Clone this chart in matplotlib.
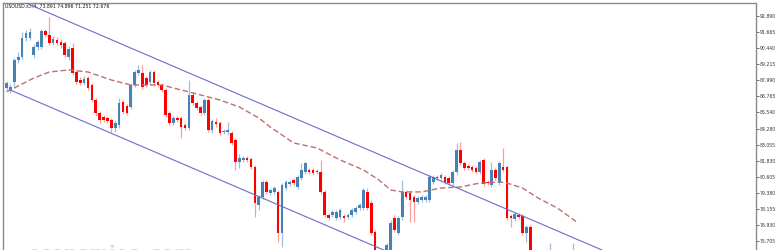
import matplotlib
matplotlib.use("Agg")
import matplotlib.pyplot as plt
import numpy as np

# ---- data (prices) ----
opens = [87.39,87.16,87.85,89.53,89.76,91.21,91.21,89.91,90.52,90.52,
         91.74,91.44,90.83,91.06,90.90,90.83,89.76,90.45,88.61,88.00,
         87.77,88.15,87.62,86.47,85.48,85.17,85.10,84.95,84.33,84.56,
         86.32,86.02,85.94,87.62,88.54,88.54,88.15,87.85,88.61,87.85,
         87.62,87.24,85.48,84.72,85.10,85.10,84.56,84.33,86.86,86.24,
         85.94,85.48,86.47,84.18,84.79,84.72,84.03,84.03,83.95,83.42,
         81.74,81.89,82.04,81.97,81.36,78.45,79.06,80.21,79.37,79.45,
         79.45,76.31,79.75,80.06,80.36,79.83,80.52,80.97,81.13,81.13,
         81.05,80.97,79.45,77.69,77.69,77.46,77.54,77.61,77.54,77.69,
         77.92,78.22,78.22,79.45,78.61,76.39,74.79,74.10,74.40,75.02,
         77.46,76.31,77.54,79.45,79.37,79.06,78.68,78.83,78.83,78.83,
         80.21,80.59,80.52,80.59,80.52,80.13,80.97,82.65,81.66,81.43,
         81.36,81.28,80.97,81.89,80.21,79.98,81.13,80.13,81.36,81.36,
         77.61,77.38,77.69,77.61,76.31,76.77,74.56,73.64,72.57,73.33,
         71.96,73.49,72.72,71.81,72.88,73.79,73.33,73.891]
highs = [87.92,87.70,89.68,90.14,91.67,91.82,91.97,90.75,91.06,91.90,
         91.90,92.81,91.36,91.29,91.13,90.98,90.60,90.83,88.77,88.23,
         88.31,88.31,87.77,86.63,85.63,85.33,85.25,85.10,84.95,86.63,
         86.47,86.17,87.77,88.77,89.15,89.15,88.31,88.77,88.77,88.00,
         87.77,87.39,85.63,85.25,85.25,85.25,84.72,88.00,87.08,86.40,
         86.09,86.63,86.63,85.02,85.10,84.87,84.26,84.79,84.10,83.57,
         82.35,82.20,82.20,82.12,81.51,79.22,80.36,80.36,79.75,79.90,
         79.60,80.13,80.36,80.36,80.52,80.74,81.66,81.74,81.28,81.28,
         81.20,81.89,79.60,77.84,78.07,78.07,78.22,77.76,77.84,78.22,
         78.38,78.61,79.75,79.75,78.83,76.54,74.94,74.86,75.55,77.31,
         77.69,77.61,80.36,79.60,79.52,79.22,79.14,79.22,79.22,80.74,
         80.74,80.74,80.90,80.74,80.67,81.13,83.19,83.27,81.81,81.58,
         81.51,81.43,81.89,82.04,80.36,81.74,81.28,81.81,82.81,81.51,
         77.76,77.92,77.84,77.76,76.92,76.92,74.71,73.87,73.64,73.64,
         75.55,73.79,73.03,73.18,74.10,74.10,75.55,74.896]
lows = [87.24,87.01,87.54,89.30,89.61,90.98,91.06,89.68,90.29,90.37,
        91.29,90.67,90.67,90.67,90.45,89.76,89.53,88.38,87.70,87.62,
        87.62,87.24,86.32,85.25,84.72,84.79,84.72,84.03,84.03,84.33,
        85.40,85.33,85.79,87.47,88.38,87.31,87.47,87.70,87.54,87.47,
        87.08,85.17,84.56,84.56,84.79,83.57,84.18,84.18,86.09,85.71,
        85.33,85.33,84.03,83.95,84.41,83.80,83.88,83.80,83.04,81.13,
        81.28,81.74,81.74,81.20,77.54,78.07,78.91,79.29,79.22,79.29,
        75.63,75.24,79.60,79.90,79.98,79.67,80.36,80.82,80.82,80.74,
        80.82,79.29,77.54,77.31,77.54,77.31,77.38,77.15,77.38,77.54,
        77.76,78.07,78.07,78.07,76.16,74.56,73.87,73.87,74.25,74.79,
        76.39,76.16,77.31,78.91,77.15,77.15,78.53,78.68,78.68,78.68,
        80.06,80.36,80.36,80.06,79.98,79.98,80.82,81.51,81.13,81.13,
        80.97,80.82,80.82,79.90,79.98,79.83,80.36,79.98,80.97,77.31,
        76.77,77.23,77.38,76.16,75.63,74.25,73.33,72.42,72.26,71.58,
        71.73,72.26,71.35,71.50,72.57,72.88,73.03,71.251]
closes = [87.77,87.47,89.53,89.76,91.21,91.59,91.67,90.52,90.90,91.74,
          91.44,90.83,91.13,90.83,90.67,89.91,90.37,88.54,87.85,87.77,
          88.08,87.39,86.47,85.48,84.95,84.95,84.87,84.33,84.72,86.24,
          85.56,85.48,87.62,88.61,88.77,87.47,87.62,88.61,87.77,87.62,
          87.24,85.33,84.72,85.10,84.95,84.41,84.33,86.86,86.24,85.86,
          85.48,86.47,84.18,84.87,84.64,83.95,84.10,84.18,83.19,81.74,
          82.04,82.04,81.89,81.36,78.61,79.06,80.21,79.45,79.60,79.75,
          76.31,79.98,80.21,80.21,80.13,80.59,81.13,81.66,80.97,80.90,
          80.97,79.45,77.69,77.46,77.92,77.92,78.07,77.46,77.69,78.07,
          78.22,78.45,79.60,78.22,76.31,74.79,74.10,74.63,75.40,77.08,
          76.54,77.46,79.45,79.06,78.83,78.68,78.99,79.06,79.06,80.59,
          80.59,80.52,80.74,80.21,80.13,80.97,82.65,81.66,81.28,81.28,
          81.13,80.97,81.74,80.06,80.13,81.13,80.52,81.66,81.13,77.46,
          77.46,77.76,77.54,76.31,76.77,74.56,73.64,72.72,73.33,71.96,
          73.49,72.57,71.81,72.88,73.79,73.18,74.10,72.676]

ma_idx = [0, 2, 7, 11, 16, 21, 27, 32, 40, 43, 50, 55, 60, 65, 68, 71, 74, 80,
          86, 92, 96, 99, 102, 107, 112, 117, 122, 127, 129, 133, 137, 142, 147]
ma_val = [87.10, 87.39, 88.15, 88.61, 88.77, 88.61, 88.00, 87.62, 87.62, 87.39,
          86.86, 86.47, 85.94, 85.10, 84.40, 83.80, 83.19, 82.81, 81.89, 81.13,
          80.36, 79.60, 79.45, 79.45, 79.75, 79.83, 80.13, 80.21, 80.13, 79.75,
          78.99, 78.22, 77.15]

chan_idx = [1, 200]
chan_upper = [94.38, 94.38 - 0.127 * 199]
chan_lower = [87.23, 87.23 - 0.127 * 199]

yticks = [92.890, 91.665, 90.440, 89.215, 87.990, 86.765, 85.540, 84.280,
          83.055, 81.830, 80.605, 79.380, 78.155, 76.930, 75.705]
title = "USOUSD.s,H4, 73.891 74.896 71.251 72.676"

# ---- figure ----
W, H = 778, 250
fig = plt.figure(figsize=(W / 100, H / 100), dpi=100)
ax = fig.add_axes([2.7 / W, 0, 752.8 / W, 247 / H])
ax.set_xlim(-1.0, 193.07)
ax.set_ylim(75.015, 93.88)

up_body, dn_body = "#4682b4", "#ff0000"
up_wick, dn_wick = "#9fbfdc", "#ff9c9c"

idx = np.arange(len(opens))
o = np.array(opens); c = np.array(closes)
h = np.array(highs); l = np.array(lows)
up = c >= o
ax.vlines(idx[up], l[up], h[up], color=up_wick, lw=0.9, zorder=2)
ax.vlines(idx[~up], l[~up], h[~up], color=dn_wick, lw=0.9, zorder=2)
bottom = np.minimum(o, c)
height = np.maximum(np.abs(c - o), 0.06)
ax.bar(idx[up], height[up], bottom=bottom[up], width=0.68, color=up_body,
       lw=0, zorder=3)
ax.bar(idx[~up], height[~up], bottom=bottom[~up], width=0.68, color=dn_body,
       lw=0, zorder=3)

ax.plot(ma_idx, ma_val, color="#c07070", lw=1.0, dashes=(4, 2), zorder=4)
ax.plot(chan_idx, chan_upper, color="#6b6bd0", lw=0.8, zorder=4)
ax.plot(chan_idx, chan_lower, color="#6b6bd0", lw=0.8, zorder=4)

for s in ["left", "top", "right"]:
    ax.spines[s].set_color("#8a8a8a")
    ax.spines[s].set_linewidth(1.0)
ax.spines["bottom"].set_visible(False)
ax.set_xticks([])
ax.yaxis.tick_right()
ax.set_yticks(yticks)
ax.set_yticklabels([f"{v:.3f}" for v in yticks])
ax.tick_params(axis="y", direction="out", length=2, width=0.6,
               color="#555555", labelsize=3.3, labelcolor="#333333", pad=1)

ax.text(2.5 / 752.8, 1 - 1.2 / 247, title, transform=ax.transAxes,
        fontsize=3.3, color="#111111", va="top", ha="left")

# watermark (cut off at the bottom)
fig.text(27 / W, -9.5 / H, "economies", fontsize=13.5, fontweight="bold",
         color="#f9cdb4", ha="left", va="baseline")
fig.text(143 / W, -9.5 / H, ".com", fontsize=13.5, fontweight="bold",
         color="#d8d8d8", ha="left", va="baseline")

fig.savefig("out.png", dpi=100)
